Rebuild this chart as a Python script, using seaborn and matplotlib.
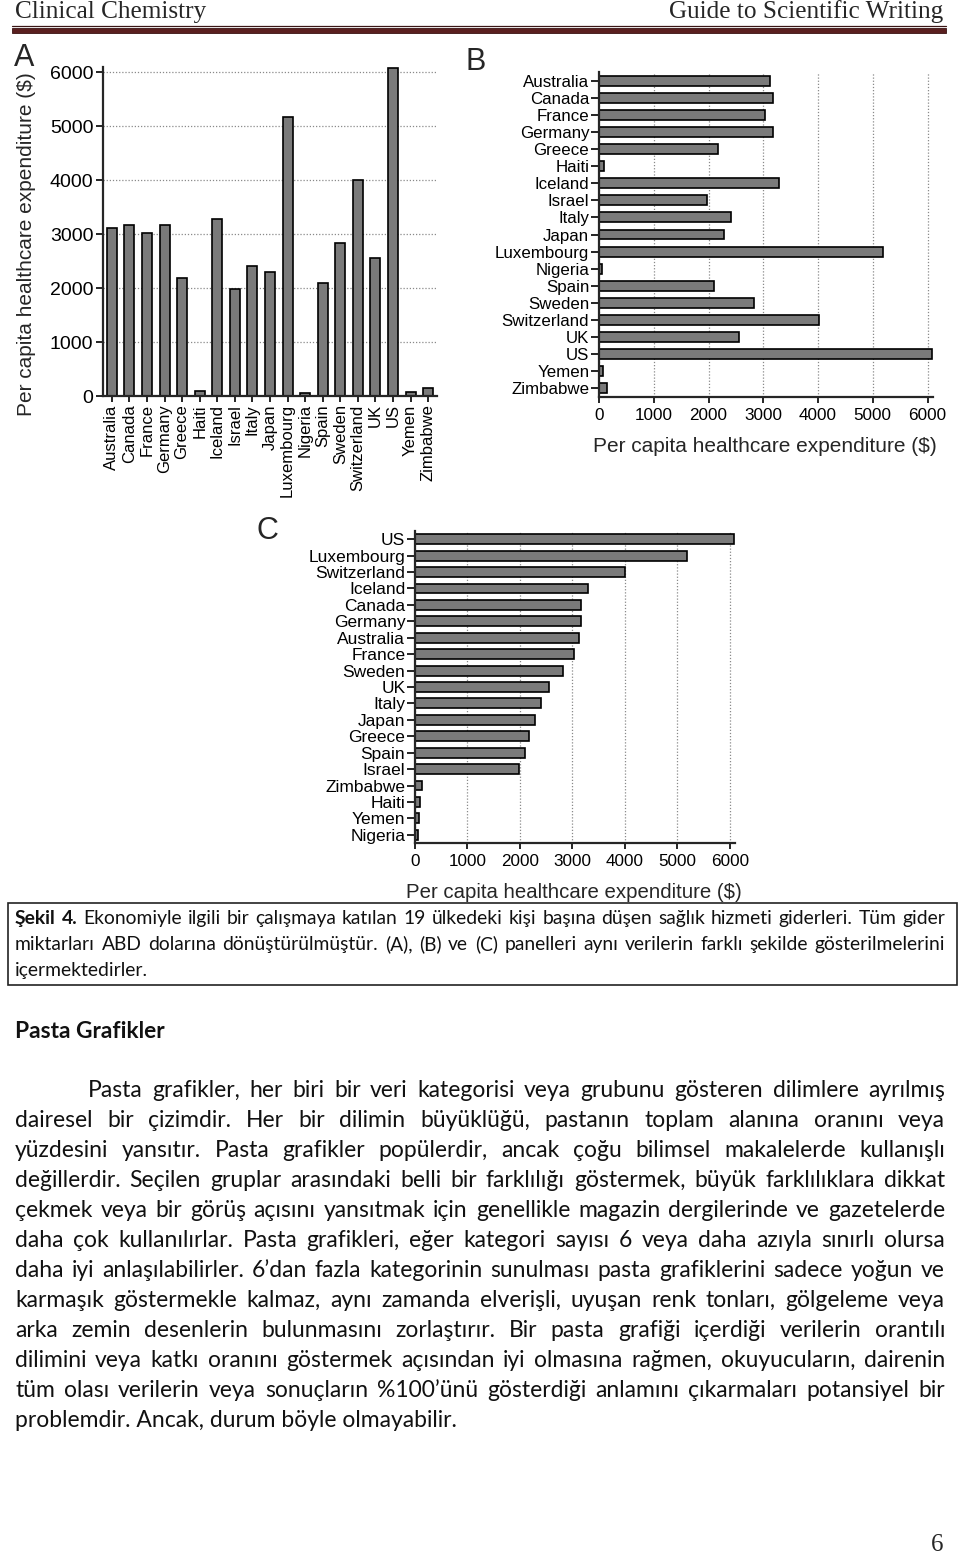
import matplotlib
matplotlib.use("Agg")
import matplotlib.pyplot as plt
from matplotlib.patches import Rectangle
import seaborn as sns
import pandas as pd

# ------------------------------------------------------------
# data
# ------------------------------------------------------------
countries = ["Australia", "Canada", "France", "Germany", "Greece", "Haiti",
             "Iceland", "Israel", "Italy", "Japan", "Luxembourg", "Nigeria",
             "Spain", "Sweden", "Switzerland", "UK", "US", "Yemen", "Zimbabwe"]
spend = [3120, 3170, 3030, 3170, 2180, 100, 3290, 1980, 2410, 2290, 5180, 60,
         2100, 2830, 4010, 2560, 6090, 80, 140]
ticks = [0, 1000, 2000, 3000, 4000, 5000, 6000]
axis_label = "Per capita healthcare expenditure ($)"

header_left = "Clinical Chemistry"
header_right = "Guide to Scientific Writing"
caption_lines = [
    "Şekil 4. Ekonomiyle ilgili bir çalışmaya katılan 19 ülkedeki kişi başına düşen sağlık hizmeti giderleri. Tüm gider",
    "miktarları ABD dolarına dönüştürülmüştür. (A), (B) ve (C) panelleri aynı verilerin farklı şekilde gösterilmelerini",
    "içermektedirler.",
]
section_title = "Pasta Grafikler"
body_lines = [
    "Pasta grafikler, her biri bir veri kategorisi veya grubunu gösteren dilimlere ayrılmış",
    "dairesel bir çizimdir. Her bir dilimin büyüklüğü, pastanın toplam alanına oranını veya",
    "yüzdesini yansıtır. Pasta grafikler popülerdir, ancak çoğu bilimsel makalelerde kullanışlı",
    "değillerdir. Seçilen gruplar arasındaki belli bir farklılığı göstermek, büyük farklılıklara dikkat",
    "çekmek veya bir görüş açısını yansıtmak için genellikle magazin dergilerinde ve gazetelerde",
    "daha çok kullanılırlar.  Pasta grafikleri, eğer kategori sayısı 6 veya daha azıyla sınırlı olursa",
    "daha iyi anlaşılabilirler. 6’dan fazla kategorinin sunulması pasta grafiklerini sadece yoğun ve",
    "karmaşık göstermekle kalmaz, aynı zamanda elverişli, uyuşan renk tonları, gölgeleme veya",
    "arka zemin desenlerin bulunmasını zorlaştırır. Bir pasta grafiği içerdiği verilerin orantılı",
    "dilimini veya katkı oranını göstermek açısından iyi olmasına rağmen, okuyucuların, dairenin",
    "tüm olası verilerin veya sonuçların %100’ünü gösterdiği anlamını çıkarmaları potansiyel bir",
    "problemdir. Ancak, durum böyle olmayabilir.",
]
page_number = "6"

df = pd.DataFrame({"country": countries, "spend": spend})
df_sorted = df.sort_values("spend", ascending=False, kind="stable")

# ------------------------------------------------------------
# style
# ------------------------------------------------------------
sns.set_style("ticks")
plt.rcParams["font.family"] = ["Liberation Sans", "DejaVu Sans"]
BODY = ["Lato", "Open Sans", "DejaVu Sans"]
SERIF = ["Liberation Serif", "DejaVu Serif"]

W, H = 960, 1555
fig = plt.figure(figsize=(W / 100, H / 100), dpi=100)
fig.patch.set_facecolor("white")

# page layer in pixel coordinates
page = fig.add_axes([0, 0, 1, 1])
page.set_xlim(0, W)
page.set_ylim(H, 0)
page.axis("off")


def px_axes(l, t, r, b):
    return fig.add_axes([l / W, 1 - b / H, (r - l) / W, (b - t) / H])


bar_kw = dict(color="#7a7a7a", saturation=1, edgecolor="black", linewidth=1.2)
grid_kw = dict(linestyle=(0, (1, 1.5)), color="#8a8a8a", linewidth=0.9)


def style_axes(ax):
    sns.despine(ax=ax)
    for s in ["left", "bottom"]:
        ax.spines[s].set_linewidth(1.6)
    ax.set_axisbelow(True)
    ax.set_xlabel("")
    ax.set_ylabel("")
    ax.tick_params(width=1.2, length=5, colors="black")


# ------------------------------------------------------------
# panel A: vertical bars
# ------------------------------------------------------------
axA = px_axes(103, 67, 437, 396)
sns.barplot(data=df, x="country", y="spend", width=0.57, ax=axA, **bar_kw)
style_axes(axA)
axA.set_ylim(0, 6100)
axA.set_yticks(ticks)
axA.yaxis.grid(True, **grid_kw)
axA.tick_params(axis="y", labelsize=14, pad=2)
axA.tick_params(axis="x", labelsize=12, rotation=90, length=4, pad=2)

# ------------------------------------------------------------
# panel B: horizontal bars, alphabetical
# ------------------------------------------------------------
axB = px_axes(599, 72, 933, 397)
sns.barplot(data=df, x="spend", y="country", orient="h", width=0.58, ax=axB, **bar_kw)
style_axes(axB)
axB.set_xlim(0, 6100)
axB.set_xticks(ticks)
axB.xaxis.grid(True, **grid_kw)
axB.tick_params(axis="x", labelsize=12.3, length=4, pad=4)
axB.tick_params(axis="y", labelsize=12.2, length=6, pad=1)

# ------------------------------------------------------------
# panel C: horizontal bars, sorted
# ------------------------------------------------------------
axC = px_axes(415, 531, 735, 843)
sns.barplot(data=df_sorted, x="spend", y="country", orient="h", width=0.6, ax=axC, **bar_kw)
style_axes(axC)
axC.set_xlim(0, 6100)
axC.set_xticks(ticks)
axC.xaxis.grid(True, **grid_kw)
axC.tick_params(axis="x", labelsize=12.3, length=4, pad=4)
axC.tick_params(axis="y", labelsize=12.5, length=6, pad=1)

# axis labels and panel letters
page.text(27, 244, axis_label, rotation=90, fontsize=15, ha="center", va="center")
page.text(765, 447, axis_label, fontsize=15, ha="center", va="center")
page.text(574, 893, axis_label, fontsize=14.7, ha="center", va="center")
page.text(14, 58, "A", fontsize=22, ha="left", va="center")
page.text(466, 62, "B", fontsize=22, ha="left", va="center")
page.text(257, 531, "C", fontsize=22, ha="left", va="center")

# ------------------------------------------------------------
# page header
# ------------------------------------------------------------
page.text(15, 12, header_left, family=SERIF, fontsize=18.2, ha="left", va="center")
page.text(943, 12, header_right, family=SERIF, fontsize=18.2, ha="right", va="center")
page.plot([12, 946], [25.5, 25.5], color="#3a1515", lw=0.9)
page.add_patch(Rectangle((12, 28.3), 934, 5, facecolor="#5a1f1f", edgecolor="#3a1212", lw=0.6))

# ------------------------------------------------------------
# text helpers (justified lines, baseline aligned)
# ------------------------------------------------------------
renderer = fig.canvas.get_renderer()


def width_of(s, size, bold=False):
    t = page.text(0, 0, s, family=BODY, fontsize=size,
                  fontweight="bold" if bold else "normal")
    w = t.get_window_extent(renderer).width
    t.remove()
    return w


def draw_line(s, x0, x1, y, size, justify=True, bold_words=0, color="#111111"):
    words = s.split()
    if not justify:
        page.text(x0, y, s, family=BODY, fontsize=size, ha="left",
                  va="baseline", color=color)
        return
    ws = [width_of(w, size, i < bold_words) for i, w in enumerate(words)]
    gap = (x1 - x0 - sum(ws)) / (len(words) - 1)
    x = x0
    for i, (w, wd) in enumerate(zip(words, ws)):
        page.text(x, y, w, family=BODY, fontsize=size,
                  fontweight="bold" if i < bold_words else "normal",
                  ha="left", va="baseline", color=color)
        x += wd + gap


# caption box
cap_size = 10 * 133 / width_of(caption_lines[2], 10)
page.add_patch(Rectangle((8, 903), 949, 82, facecolor="none", edgecolor="#222222", lw=1.2))
draw_line(caption_lines[0], 15, 945, 924, cap_size, bold_words=2)
draw_line(caption_lines[1], 15, 945, 950, cap_size)
draw_line(caption_lines[2], 15, 945, 976, cap_size, justify=False)

# section title and body
title_size = 10 * 150 / width_of(section_title, 10, True)
page.text(15, 1038, section_title, family=BODY, fontsize=title_size,
          fontweight="bold", ha="left", va="baseline", color="#111111")

body_size = 10 * 442 / width_of(body_lines[-1], 10)
for i, line in enumerate(body_lines):
    y = 1097 + 30 * i
    x0 = 88 if i == 0 else 15
    draw_line(line, x0, 945, y, body_size, justify=(i < len(body_lines) - 1))

page.text(943, 1545, page_number, family=SERIF, fontsize=18, ha="right", va="center")

fig.savefig("out.png", dpi=100, facecolor="white")
